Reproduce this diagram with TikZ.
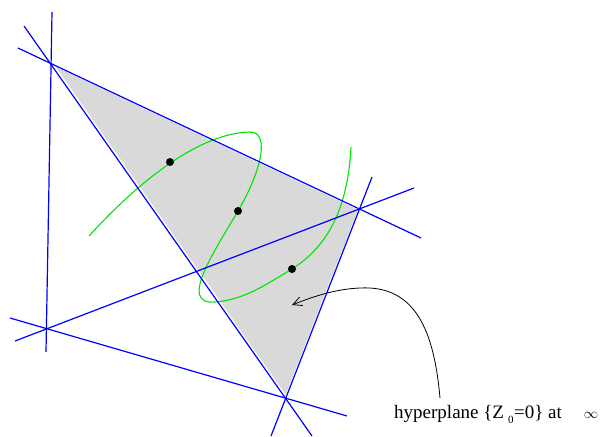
\documentclass[tikz,border=0pt]{standalone}
\usepackage{fontspec}
\setmainfont{Liberation Serif}
\usetikzlibrary{arrows.meta}
\tikzset{
  bline/.style={blue, line width=1.2pt},
  gcurve/.style={green!90!black, line width=1.1pt},
  ptdot/.style={circle, fill=black, inner sep=0pt, minimum size=8pt},
  lbl/.style={inner sep=0pt, anchor=base west, font=\fontsize{19}{22}\selectfont},
  pointer/.style={black, line width=0.8pt, -{Straight Barb[length=9pt,width=9pt]}}
}
\begin{document}
\begin{tikzpicture}[x=1pt,y=-1pt]
\useasboundingbox (0,0) rectangle (604,436);
% four points of the complete quadrilateral
\coordinate (A) at (51,63);
\coordinate (B) at (360,209);
\coordinate (C) at (286,398);
\coordinate (D) at (47,329);
% line end points
\coordinate (ad1) at (52,12);   \coordinate (ad2) at (46,352);
\coordinate (ab1) at (18,48);   \coordinate (ab2) at (421,238);
\coordinate (ac1) at (24,26);   \coordinate (ac2) at (312,436);
\coordinate (db1) at (15,341);  \coordinate (db2) at (414,188);
\coordinate (dc1) at (10,318);  \coordinate (dc2) at (347,416);
\coordinate (bc1) at (372,177); \coordinate (bc2) at (271,436);
% shaded triangle
\fill[gray!30, draw=white, line width=3pt, line join=miter] (A) -- (B) -- (C) -- cycle;
% green curve
\draw[gcurve] (89,236) .. controls (140,180) and (200,133) .. (250,132)
  .. controls (270,132) and (262,170) .. (238,211)
  .. controls (214,252) and (178,305) .. (215,302)
  .. controls (245,300) and (270,282) .. (292,269)
  .. controls (330,245) and (348,205) .. (351,147);
% blue lines
\draw[bline] (ad1) -- (ad2);
\draw[bline] (ab1) -- (ab2);
\draw[bline] (ac1) -- (ac2);
\draw[bline] (db1) -- (db2);
\draw[bline] (dc1) -- (dc2);
\draw[bline] (bc1) -- (bc2);
% dots
\node[ptdot] (p1) at (170,162) {};
\node[ptdot] (p2) at (238,211) {};
\node[ptdot] (p3) at (292,269) {};
% label and arrow
\node[lbl] (label) at (394,418) {hyperplane \{Z\hspace{4pt}\raisebox{-5pt}{\fontsize{11}{11}\selectfont 0}\hspace{0.5pt}=0\} at\hspace{22pt}{\fontsize{15}{15}\selectfont$\infty$}};
\coordinate (arrstart) at (440,398);
\coordinate (arrtip) at (292,305);
\draw[pointer] (arrstart) .. controls (434,330) and (415,285) .. (360,288) .. controls (335,289) and (312,297) .. (arrtip);
\end{tikzpicture}
\end{document}
